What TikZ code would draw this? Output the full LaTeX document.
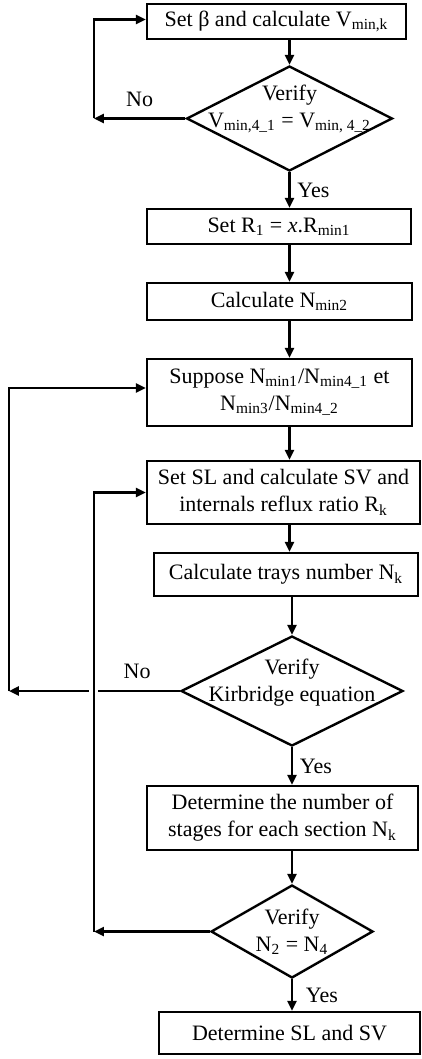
\documentclass[tikz,border=0pt]{standalone}
\usepackage{fontspec}
\setmainfont{Liberation Serif}
\usetikzlibrary{positioning, shapes.geometric, arrows.meta}
\tikzstyle{process} = [rectangle, draw=black, line width=1.2pt, text centered, align=center, inner sep=2pt]
\tikzstyle{decision} = [diamond, aspect=2, draw=black, line width=1.2pt, text centered, align=center, inner xsep=-5pt, inner ysep=-9pt]
\tikzstyle{arrow} = [line width=1.2pt,->,>={Triangle[length=5pt,width=4.5pt]}]

\begin{document}
\begin{tikzpicture}[font=\fontsize{11}{13.5}\selectfont]
	\useasboundingbox (-138.25pt,10.75pt) rectangle (72.75pt,-518.75pt);

	\node (setbeta) [process, minimum width=129.5pt, minimum height=17.5pt] {Set β and calculate V\textsubscript{min,k}};
	\node (verify1) [decision, node distance=48.5pt, below of=setbeta, xshift=6.5pt, minimum width=102.5pt, minimum height=52.5pt, text depth=12.5pt] {Verify\\V\textsubscript{min,4\_1} = V\textsubscript{min, 4\_2}};
	\node (setR) [process, node distance=54pt, below of=verify1, xshift=-5.25pt, minimum width=132pt, minimum height=17.5pt] {Set R\textsubscript{1} = \textit{x}.R\textsubscript{min1}};
	\node (calcN) [process, node distance=37.5pt, below of=setR, xshift=0.25pt, minimum width=132.5pt, minimum height=18.5pt] {Calculate N\textsubscript{min2}};
	\node (suppose) [process, node distance=45.5pt, below of=calcN, minimum width=132.5pt, minimum height=33.5pt] {Suppose N\textsubscript{min1}/N\textsubscript{min4\_1} et\\N\textsubscript{min3}/N\textsubscript{min4\_2}};
	\node (setSL) [process, node distance=50pt, below of=suppose, xshift=2pt, minimum width=136.5pt, minimum height=31.5pt] {Set SL and calculate SV and\\internals reflux ratio R\textsubscript{k}};
	\node (trays) [process, node distance=41pt, below of=setSL, xshift=1.25pt, minimum width=132pt, minimum height=21.5pt] {Calculate trays number N\textsubscript{k}};
	\node (verify2) [decision, node distance=58.25pt, below of=trays, xshift=3pt, minimum width=111pt, minimum height=55pt, text depth=11pt] {Verify\\Kirbridge equation};
	\node (stages) [process, node distance=63.5pt, below of=verify2, xshift=-4.75pt, minimum width=135.5pt, minimum height=32pt] {Determine the number of\\stages for each section N\textsubscript{k}};
	\node (verify3) [decision, node distance=56.75pt, below of=stages, xshift=4.75pt, minimum width=81pt, minimum height=46.5pt] {Verify\\N\textsubscript{2} = N\textsubscript{4}};
	\node (final) [process, node distance=50.75pt, below of=verify3, xshift=-1.25pt, minimum width=130.5pt, minimum height=21pt] {Determine SL and SV};

	\coordinate [node distance=97.75pt, left of=verify1] (back1);
	\coordinate [node distance=141.5pt, left of=verify2] (back2);
	\coordinate [node distance=99pt, left of=verify3] (back3);

	\draw [arrow] (setbeta.south -| verify1) -- (verify1);
	\draw [arrow] (verify1) -- node[anchor=west] {Yes} (verify1 |- setR.north);
	\draw [arrow] (setR.south -| verify1) -- (verify1 |- calcN.north);
	\draw [arrow] (calcN.south -| verify1) -- (verify1 |- suppose.north);
	\draw [arrow] (suppose.south -| verify1) -- (verify1 |- setSL.north);
	\draw [arrow] (setSL.south -| verify1) -- (verify1 |- trays.north);
	\draw [arrow] (trays.south -| verify2) -- (verify2);
	\draw [arrow] (verify2) -- node[anchor=west] {Yes} (verify2 |- stages.north);
	\draw [arrow] (stages.south -| verify3) -- (verify3);
	\draw [arrow] (verify3) -- node[anchor=west, xshift=3pt] {Yes} (verify3 |- final.north);

	\draw [arrow] (verify1) -- node[anchor=south, yshift=2pt] {No} (back1);
	\draw [arrow] (back1) |- ([yshift=1pt]setbeta.west);
	\draw [arrow] (verify2) -- node[pos=0.25, anchor=south, yshift=2pt] {No} (back2);
	\draw [arrow] (back2) |- ([yshift=2.25pt]suppose.west);
	\draw [arrow, preaction={draw=white, line width=4.5pt, -}] (back3) |- (setSL.west);
	\draw [arrow] (verify3) -- (back3);

\end{tikzpicture}
\end{document}
